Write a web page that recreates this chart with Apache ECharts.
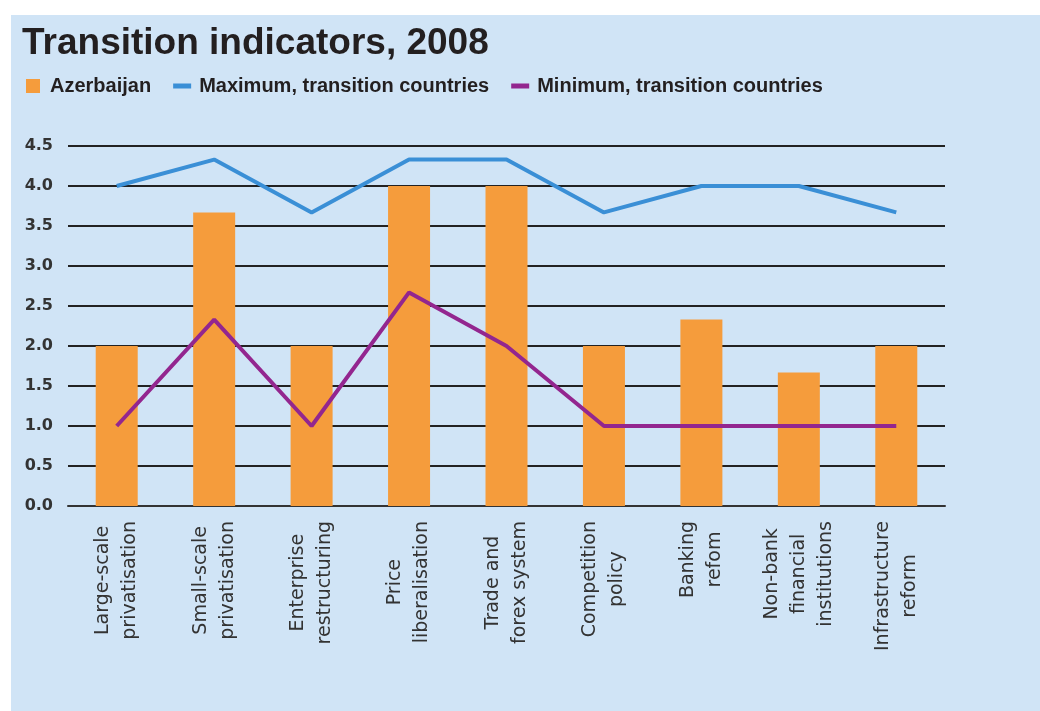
<!DOCTYPE html>
<html>
<head>
<meta charset="utf-8">
<script src="https://cdn.jsdelivr.net/npm/echarts@6/dist/echarts.min.js"></script>
<style>
  html, body { margin: 0; padding: 0; background: #ffffff; }
  #panel { position: absolute; left: 11px; top: 15px; width: 1029px; height: 696px; background: #d0e4f6; }
  #chart { position: absolute; left: 0; top: 0; width: 1040px; height: 711px; }
</style>
</head>
<body>
<div id="panel"></div>
<div id="chart"></div>
<script>
const categories = [
  'Large-scale\nprivatisation',
  'Small-scale\nprivatisation',
  'Enterprise\nrestructuring',
  'Price\nliberalisation',
  'Trade and\nforex system',
  'Competition\npolicy',
  'Banking\nrefom',
  'Non-bank\nfinancial\ninstitutions',
  'Infrastructure\nreform'
];
const azerbaijan = [2.0, 3.67, 2.0, 4.0, 4.0, 2.0, 2.33, 1.67, 2.0];
const maximum = [4.0, 4.33, 3.67, 4.33, 4.33, 3.67, 4.0, 4.0, 3.67];
const minimum = [1.0, 2.33, 1.0, 2.67, 2.0, 1.0, 1.0, 1.0, 1.0];
const seriesNames = ['Azerbaijan', 'Maximum, transition countries', 'Minimum, transition countries'];

const chart = echarts.init(document.getElementById('chart'), null, { renderer: 'canvas' });
chart.setOption({
  backgroundColor: 'transparent',
  animation: false,
  title: {
    text: 'Transition indicators, 2008',
    left: 17,
    top: 20,
    textStyle: { fontFamily: 'Liberation Sans, Arial, sans-serif', fontWeight: 'bold', fontSize: 37, color: '#231f20' }
  },
  legend: {
    left: 21,
    top: 71,
    itemWidth: 18,
    itemHeight: 14,
    itemGap: 22,
    symbolKeepAspect: true,
    textStyle: { fontFamily: 'Liberation Sans, Arial, sans-serif', fontWeight: 'bold', fontSize: 20, color: '#231f20', padding: [0, 0, 0, 3] },
    data: [
      { name: seriesNames[0], icon: 'path://M0,0h14v14h-14z' },
      { name: seriesNames[1], icon: 'path://M0,0h18v5h-18z' },
      { name: seriesNames[2], icon: 'path://M0,0h18v5h-18z' }
    ]
  },
  grid: { left: 68, right: 95, top: 146, bottom: 205, containLabel: false, outerBoundsMode: 'none' },
  xAxis: {
    type: 'category',
    data: categories,
    axisLine: { lineStyle: { color: '#333', width: 2 } },
    axisTick: { show: false },
    axisLabel: {
      interval: 0,
      rotate: 90,
      margin: 15,
      formatter: function (v) { return v.split('\n').map(function (s) { return '{c|' + s + '}'; }).join('\n'); },
      rich: { c: { align: 'center', fontFamily: 'DejaVu Sans, sans-serif', fontSize: 19, lineHeight: 27, color: '#333333' } }
    }
  },
  yAxis: {
    type: 'value',
    min: 0,
    max: 4.5,
    interval: 0.5,
    axisLine: { show: false },
    axisTick: { show: false },
    axisLabel: {
      margin: 15,
      formatter: function (v) { return v.toFixed(1); },
      fontFamily: 'DejaVu Sans, sans-serif',
      fontWeight: 'bold',
      fontSize: 16,
      color: '#333333'
    },
    splitLine: { lineStyle: { color: '#222222', width: 2 } }
  },
  series: [
    { name: seriesNames[0], type: 'bar', data: azerbaijan, barWidth: 42, itemStyle: { color: '#f59c3c' } },
    { name: seriesNames[1], type: 'line', data: maximum, symbol: 'none', lineStyle: { color: '#3a8fd6', width: 4 }, itemStyle: { color: '#3a8fd6' } },
    { name: seriesNames[2], type: 'line', data: minimum, symbol: 'none', lineStyle: { color: '#93268f', width: 4 }, itemStyle: { color: '#93268f' } }
  ]
});
</script>
</body>
</html>
